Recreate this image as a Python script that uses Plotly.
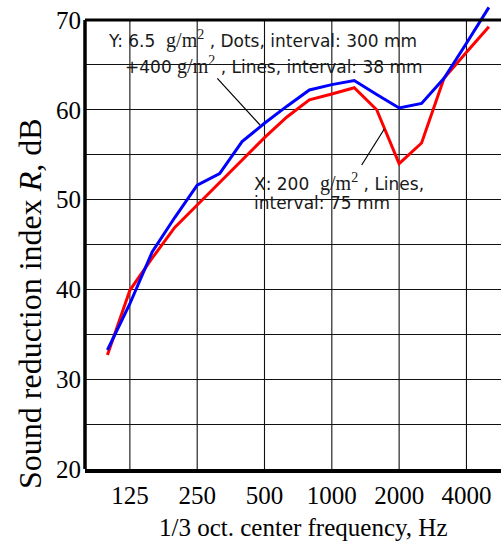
import plotly.graph_objects as go

# ---- data ----
freq_labels = ['100', '125', '160', '200', '250', '315', '400', '500', '630', '800',
               '1000', '1250', '1600', '2000', '2500', '3150', '4000', '5000']
tick_labels = ['125', '250', '500', '1000', '2000', '4000']
series_Y = [33.25, 38.4, 44.2, 48.0, 51.6, 52.9, 56.45, 58.5, 60.4, 62.2,
            62.8, 63.25, 61.7, 60.2, 60.7, 63.5, 67.4, 71.4]
series_X = [32.7, 39.9, 43.5, 46.9, 49.4, 51.9, 54.4, 56.9, 59.2, 61.1,
            61.75, 62.45, 60.0, 54.0, 56.3, 63.5, 66.4, 69.25]
y_ticks = [20, 30, 40, 50, 60, 70]

W, H = 501, 543
ML, MR, MT, MB = 85, 0, 2, 74
PW, PH = W - ML - MR, H - MT - MB

def px(x):
    return (x - ML) / PW

def py(y):
    return (H - MB - y) / PH

xpos = list(range(len(freq_labels)))
tick_pos = [freq_labels.index(t) for t in tick_labels]
XR = [-1, 17.54]
YR = [20, 72]

SERIF = "Liberation Serif"
SANS = "DejaVu Sans"

fig = go.Figure()
fig.add_trace(go.Scatter(x=xpos, y=series_X, mode='lines',
                         line=dict(color='#ff0000', width=3), showlegend=False))
fig.add_trace(go.Scatter(x=xpos, y=series_Y, mode='lines',
                         line=dict(color='#0000ff', width=3), showlegend=False))

shapes = []
for t in tick_pos:
    shapes.append(dict(type='line', xref='x', yref='y', x0=t, x1=t, y0=20, y1=70,
                       line=dict(color='#111', width=1.1), layer='below'))
# borders
shapes.append(dict(type='line', xref='paper', yref='y', x0=0, x1=0, y0=20, y1=70,
                   line=dict(color='black', width=3.5), layer='above'))
shapes.append(dict(type='line', xref='paper', yref='y', x0=0, x1=1, y0=70, y1=70,
                   line=dict(color='black', width=3), layer='above'))
# pointer lines
shapes.append(dict(type='line', xref='paper', yref='paper', x0=px(217.3), y0=py(78.3),
                   x1=px(260), y1=py(125), line=dict(color='black', width=1.2)))
shapes.append(dict(type='line', xref='paper', yref='paper', x0=px(361.7), y0=py(165),
                   x1=px(384.3), y1=py(129), line=dict(color='black', width=1.2)))

gm = '<span style="font-family:Liberation Serif;font-size:20px">g/m<sup>2</sup></span>'
nb = '\u00a0'
ann_font = dict(family=SANS, size=17, color='#1a1a1a')
annotations = [
    dict(text=f'Y: 6.5{nb}{nb}{gm} , Dots, interval: 300 mm', x=px(106), y=py(40)),
    dict(text=f'+400 {gm} , Lines, interval: 38 mm', x=px(123), y=py(65)),
    dict(text=f'X: 200{nb}{nb}{gm} , Lines,', x=px(251.5), y=py(182)),
    dict(text='interval: 75 mm', x=px(251.5), y=py(203)),
]
for a in annotations:
    a.update(xref='paper', yref='paper', xanchor='left', yanchor='middle',
             showarrow=False, font=ann_font)
annotations.append(dict(text='1/3 oct. center frequency, Hz', xref='paper', yref='paper',
                        x=px(303), y=py(527), xanchor='center', yanchor='middle',
                        showarrow=False, font=dict(family=SERIF, size=25, color='black')))
annotations.append(dict(text='Sound reduction index <i>R</i>, dB', xref='paper', yref='paper',
                        x=px(30), y=py(304), xanchor='center', yanchor='middle', textangle=-90,
                        showarrow=False, font=dict(family=SERIF, size=32, color='black')))

fig.update_layout(
    width=W, height=H,
    margin=dict(l=ML, r=MR, t=MT, b=MB, pad=0),
    paper_bgcolor='white', plot_bgcolor='white',
    shapes=shapes, annotations=annotations,
    xaxis=dict(range=XR, tickvals=tick_pos, ticktext=tick_labels, showgrid=False,
               zeroline=False, showline=True, linecolor='black', linewidth=3.5,
               ticks='', tickfont=dict(family=SERIF, size=25, color='black'),
               ticklabelstandoff=1),
    yaxis=dict(range=YR, tickvals=y_ticks, showgrid=True, gridcolor='#111', gridwidth=1.1,
               zeroline=False, showline=False,
               ticks='', tickfont=dict(family=SERIF, size=25, color='black'),
               ticklabelstandoff=3),
)
# minor horizontal grid at 5 dB
fig.update_yaxes(minor=dict(dtick=5, tick0=25, showgrid=True, gridcolor='#111', gridwidth=1.1))

fig.write_html("out.html")
